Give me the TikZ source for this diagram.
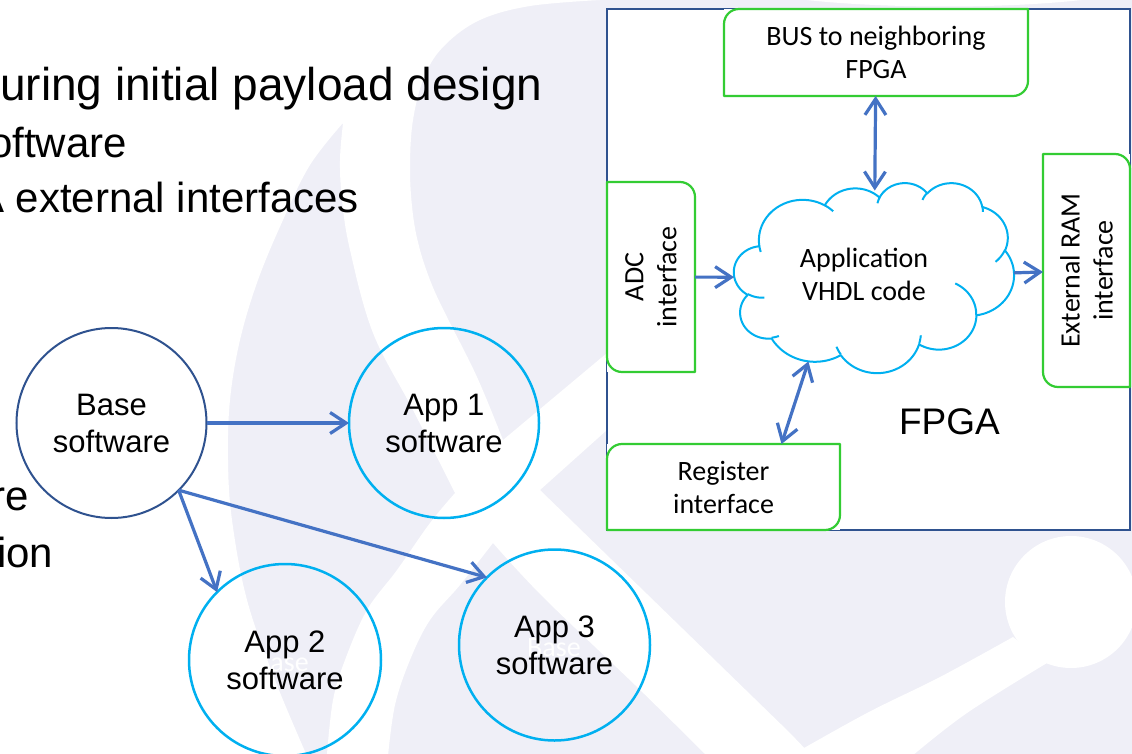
\documentclass[tikz,border=0pt]{standalone}
\usepackage{fontspec}
\setmainfont{Liberation Sans}
\newfontfamily\calibri{Carlito}
\usetikzlibrary{arrows.meta,shapes.geometric,calc}

\definecolor{wash}{RGB}{239,239,247}
\definecolor{navy}{RGB}{47,82,143}
\definecolor{sky}{RGB}{0,176,240}
\definecolor{lime}{RGB}{51,204,51}
\definecolor{linkblue}{RGB}{68,114,196}

\newcommand\boxrad{15pt}
% green box outline, rounded top-left and bottom-right corners
\newcommand\outlineTLBR[1]{%
  \draw[gline] (#1.south west) -- ([yshift=-\boxrad]#1.north west)
    arc[start angle=180,end angle=90,radius=\boxrad] -- (#1.north east)
    -- ([yshift=\boxrad]#1.south east)
    arc[start angle=0,end angle=-90,radius=\boxrad] -- cycle;}
% green box outline, rounded top-right and bottom-left corners
\newcommand\outlineTRBL[1]{%
  \draw[gline] (#1.north west) -- ([xshift=-\boxrad]#1.north east)
    arc[start angle=90,end angle=0,radius=\boxrad] -- (#1.south east)
    -- ([xshift=\boxrad]#1.south west)
    arc[start angle=270,end angle=180,radius=\boxrad] -- cycle;}

% cloud outline built from elliptic arcs on a 4320 x 4320 grid,
% mapped onto the box (cloudX,cloudY) + (280 x 190), y pointing down
\newcommand\cloudX{734}
\newcommand\cloudY{182.5}
\pgfmathsetmacro\sx{280/4320}
\pgfmathsetmacro\sy{190/4320}
\newcommand\cloudto[2]{%
  \pgfmathsetmacro\cpx{\cloudX+#1*\sx}%
  \pgfmathsetmacro\cpy{\cloudY+#2*\sy}}
% #1,#2 radii (grid units), #3 start angle, #4 sweep (degrees, as seen on the ellipse)
\newcommand\cloudarc[4]{%
  \pgfmathsetmacro\ta{atan2(#1*sin(#3),#2*cos(#3))}%
  \pgfmathsetmacro\tb{atan2(#1*sin(#3+#4),#2*cos(#3+#4))}%
  \pgfmathsetmacro\te{\ta+mod(\tb-(\ta)+720,360)}%
  \pgfmathsetmacro\ra{#1*\sx}%
  \pgfmathsetmacro\rb{#2*\sy}%
  \pgfmathsetmacro\ccx{\cpx-\ra*cos(\ta)}%
  \pgfmathsetmacro\ccy{\cpy-\rb*sin(\ta)}%
  \xdef\arcseg{plot[domain=\ta:\te,samples=28] ({\ccx+\ra*cos(\noexpand\x)},{\ccy+\rb*sin(\noexpand\x)})}%
  \pgfmathsetmacro\cpx{\ccx+\ra*cos(\te)}%
  \pgfmathsetmacro\cpy{\ccy+\rb*sin(\te)}}
\newcommand\outerarc[4]{\cloudarc{#1}{#2}{#3}{#4}%
  \xdef\cloudoutline{\unexpanded\expandafter{\cloudoutline}\unexpanded{ -- }\unexpanded\expandafter{\arcseg}}}
\newcommand\innerarc[6]{\cloudto{#1}{#2}\cloudarc{#3}{#4}{#5}{#6}%
  \xdef\cloudinner{\unexpanded\expandafter{\cloudinner}\unexpanded{ }\unexpanded\expandafter{\arcseg}}}

\begin{document}
\begin{tikzpicture}[x=1pt,y=-1pt,
  gbox/.style={rectangle, fill=white, inner sep=0pt, outer sep=0pt},
  gline/.style={draw=lime, line width=2.2pt, line join=round},
  btext/.style={inner sep=0pt, align=center, font=\calibri\fontsize{28}{33}\selectfont},
  swcircle/.style={circle, draw=sky, line width=2.5pt, inner sep=0pt, outer sep=0pt,
    minimum size=#1, align=center, font=\fontsize{31}{37}\selectfont},
  ghost/.style={inner sep=0pt, text=white, font=\calibri\fontsize{28}{33}\selectfont},
  bullet1/.style={anchor=base west, inner sep=0pt, font=\fontsize{46}{55}\selectfont},
  bullet2/.style={anchor=base west, inner sep=0pt, font=\fontsize{42}{50}\selectfont},
  barb/.tip={Straight Barb[length=16pt,width=21pt]},
  link/.style={draw=linkblue, line width=3.2pt, -barb},
  duplex/.style={draw=linkblue, line width=3.2pt, barb-barb}]

\useasboundingbox (0,0) rectangle (1132,754);

% watermark: pale ground with white cut-outs
\fill[wash] (0,0) rectangle (1132,754);
\fill[white] (0,0) -- (600,0)
  -- plot[smooth, tension=0.6] coordinates {(600,0) (530,6) (480,20) (445,45) (425,75)
     (413,120) (410,170) (413,215) (420,250) (432,285) (447,317) (477,377) (503,440)}
  -- (607,353) -- (607,430) -- (540,490) -- (790,733) -- (812,756) -- (705,756)
  -- plot[smooth, tension=0.6] coordinates {(705,754) (635,685) (543,597) (493,543)}
  -- plot[smooth, tension=0.6] coordinates {(493,543) (460,585) (430,620) (410,660) (395,705) (388,756)}
  -- (327,756)
  -- plot[smooth, tension=0.6] coordinates {(327,754) (333,700) (345,660) (367,610) (397,570) (430,523) (455,493)}
  -- plot[smooth, tension=0.6] coordinates {(455,493) (413,410) (373,333) (350,250) (342,200) (340,160) (343,123)}
  -- plot[smooth, tension=0.6] coordinates {(343,123) (310,165) (283,220) (258,280) (240,340) (230,400)
     (228,460) (232,520) (247,600) (275,680) (307,756)}
  -- (0,756) -- cycle;
\fill[white] (798,-1) .. controls (880,9) and (1010,9) .. (1090,-1) -- cycle;
\fill[white] (788,756)
  -- plot[smooth, tension=0.6] coordinates {(790,756) (867,713) (940,677) (1013,637)}
  -- (1047,663)
  -- plot[smooth, tension=0.6] coordinates {(1047,663) (967,713) (912,756)} -- cycle;
\fill[white] (1071,602) circle[radius=66pt];

% slide text
\node[bullet1] (t1) at (0,101) {uring initial payload design};
\node[bullet2] (t2) at (-11,158) {oftware};
\node[bullet2] (t3) at (-24,213) {A external interfaces};
\node[bullet2] (t4) at (-9,510) {re};
\node[bullet2] (t5) at (-3,567) {ion};

% FPGA block
\node[draw=navy, line width=2pt, fill=white, inner sep=0pt, outer sep=0pt,
      minimum width=523pt, minimum height=521pt] (fpga) at (868.5,269.5) {};
\node[gbox, minimum width=304pt, minimum height=87pt] (bus) at (876,52.5) {};
\node[gbox, minimum width=88pt, minimum height=190pt] (adc) at (651,277) {};
\node[gbox, minimum width=87pt, minimum height=233pt] (ram) at (1086.5,270.5) {};
\node[gbox, minimum width=233pt, minimum height=86pt] (reg) at (723.5,487) {};
\outlineTLBR{bus}
\outlineTRBL{adc}
\outlineTRBL{ram}
\outlineTLBR{reg}
\node[btext] (bustext) at (bus) {BUS to neighboring\\FPGA};
\node[btext, rotate=90] (adctext) at (adc) {ADC\\interface};
\node[btext, rotate=90] (ramtext) at (ram) {External RAM\\interface};
\node[btext] (regtext) at (reg) {Register\\interface};

% application cloud
\node[ellipse, inner sep=0pt, outer sep=0pt, minimum width=280pt, minimum height=190pt] (app) at (874,277.5) {};
\cloudto{390.0}{1437.0}
\xdef\cloudoutline{(\cpx,\cpy)}
\outerarc{675.3}{919.0}{-190.4875}{123.7805}
\outerarc{533.3}{726.7}{-144.1024}{89.9452}
\outerarc{436.5}{594.5}{-145.8079}{99.7230}
\outerarc{485.7}{659.5}{-130.9861}{117.2417}
\outerarc{533.3}{727.3}{-78.7089}{109.0269}
\outerarc{677.5}{922.0}{-46.2673}{130.2690}
\outerarc{578.5}{786.7}{0.6250}{114.0333}
\outerarc{675.2}{921.5}{22.4516}{115.1726}
\outerarc{772.0}{1054.3}{66.2426}{75.7110}
\outerarc{436.0}{591.8}{-274.9421}{146.7356}
\outerarc{434.5}{594.5}{-246.8285}{152.5189}
\gdef\cloudinner{}
\innerarc{469.3}{2617.7}{434.5}{594.5}{86.7420}{26.4295}
\innerarc{692.8}{3489.9}{436.0}{591.8}{73.6105}{11.4475}
\innerarc{1647.8}{3909.0}{675.2}{921.5}{137.6242}{14.0811}
\innerarc{2882.7}{3475.1}{675.2}{921.5}{6.4533}{15.9984}
\innerarc{3412.9}{2295.4}{578.5}{786.7}{-70.2924}{70.9174}
\innerarc{4179.8}{1535.4}{533.3}{727.3}{30.3180}{27.7515}
\innerarc{3832.4}{542.6}{485.7}{659.5}{-13.7443}{14.8589}
\innerarc{2907.8}{395.2}{485.7}{659.5}{-149.1815}{18.1954}
\innerarc{2214.1}{472.0}{436.5}{594.5}{-163.4943}{17.6864}
\innerarc{1400.0}{519.2}{675.3}{919.0}{-66.7070}{12.3194}
\innerarc{412.7}{1578.9}{675.3}{919.0}{157.6544}{11.8582}
\filldraw[fill=white, draw=sky, line width=2pt, line join=round] \cloudoutline -- cycle;
\draw[sky, line width=2pt] \cloudinner;

\node[btext] (apptext) at (864,274) {Application\\VHDL code};
\node[inner sep=0pt, font=\fontsize{37}{44}\selectfont] (fpgalabel) at (949.5,421.5) {FPGA};

\draw[duplex, shorten >=-8pt] (bus) -- (app);
\draw[link] (adc) -- (app);
\draw[link] (app) -- (ram);
\draw[duplex] ([xshift=58pt]reg.north) -- (app.232);

% software images
\node[ghost] (ghost2) at (282,663) {Base};
\node[ghost] (ghost3) at (554,648) {Base};
\node[circle, draw=navy, line width=2pt, inner sep=0pt, outer sep=0pt, minimum size=190pt,
      align=center, font=\fontsize{31}{37}\selectfont] (base) at (111.5,423) {Base\\software};
\node[swcircle=190pt] (app1) at (444,423) {App 1\\software};
\node[swcircle=192pt] (app2) at (285,660) {App 2\\software};
\node[swcircle=191pt] (app3) at (554.5,645) {App 3\\software};

\draw[link] (base) -- (app1);
\draw[link] (base.-45) -- (app2.135);
\draw[link] (base.-45) -- (app3.135);
\end{tikzpicture}
\end{document}
